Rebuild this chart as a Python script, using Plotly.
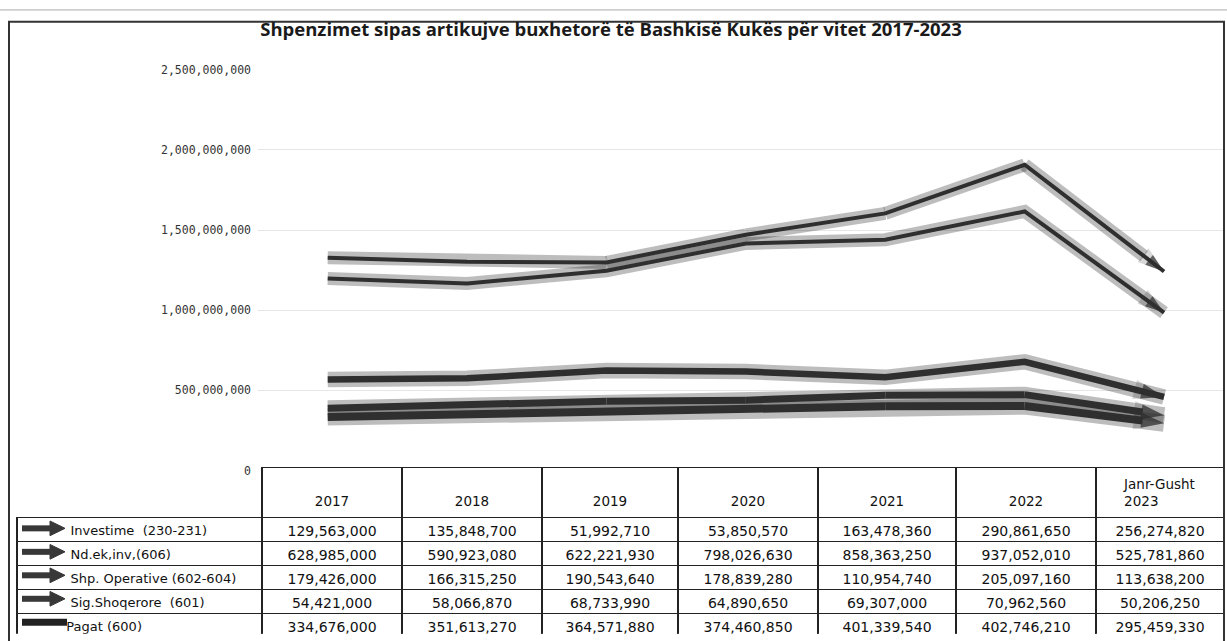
import plotly.graph_objects as go

W, H = 1227, 641

# ---------------- data ----------------
categories = ["2017", "2018", "2019", "2020", "2021", "2022", "Janr-Gusht 2023"]
header_labels = ["2017", "2018", "2019", "2020", "2021", "2022", "Janr-Gusht<br>2023"]
series_names = ["Investime  (230-231)", "Nd.ek,inv,(606)", "Shp. Operative (602-604)",
                "Sig.Shoqerore  (601)", "Pagat (600)"]
investime = [129563000, 135848700, 51992710, 53850570, 163478360, 290861650, 256274820]
ndek = [628985000, 590923080, 622221930, 798026630, 858363250, 937052010, 525781860]
shp = [179426000, 166315250, 190543640, 178839280, 110954740, 205097160, 113638200]
sig = [54421000, 58066870, 68733990, 64890650, 69307000, 70962560, 50206250]
pagat = [334676000, 351613270, 364571880, 374460850, 401339540, 402746210, 295459330]
y_ticks = [0, 500000000, 1000000000, 1500000000, 2000000000, 2500000000]

table_series = [investime, ndek, shp, sig, pagat]          # table row order
stack_order = [(pagat, 8), (sig, 7), (shp, 6.5), (ndek, 4), (investime, 4)]  # bottom -> top

fig = go.Figure()

n = len(categories)
core_color = "#2f2f2f"


def head_size(w):
    return 24 if w > 5 else 20


# shadows (own stack group)
for vals, w in stack_order:
    fig.add_trace(go.Scatter(
        x=categories, y=vals, stackgroup="shadow", fill="none", mode="lines+markers",
        line=dict(color="rgba(0,0,0,0.26)", width=w + 9),
        marker=dict(symbol=["circle"] * (n - 1) + ["arrow"],
                    size=[0] * (n - 1) + [head_size(w) + 8],
                    angleref="previous", color="rgba(0,0,0,0.22)", line=dict(width=0)),
        hoverinfo="skip", cliponaxis=False))

# main lines
for vals, w in stack_order:
    fig.add_trace(go.Scatter(
        x=categories, y=vals, stackgroup="main", fill="none", mode="lines+markers",
        line=dict(color=core_color, width=w),
        marker=dict(symbol=["circle"] * (n - 1) + ["arrow"],
                    size=[0] * (n - 1) + [head_size(w)],
                    angleref="previous", color=core_color, line=dict(width=0)),
        cliponaxis=False))

# ---------------- table ----------------
nb = "\u00a0"
label_cells = [nb * 11 + s if i < 4 else nb * 10 + s for i, s in enumerate(series_names)]
col_values = [label_cells]
for j in range(n):
    col_values.append([f"{series[j]:,}" for series in table_series])
header_cells = [""] + [(nb + "<br>" + h) if "<br>" not in h else h for h in header_labels]

plot_bottom = 474
table_top = 471
header_h = 50
row_h = 24

fig.add_trace(go.Table(
    domain=dict(x=[17 / W, 1224 / W], y=[0, 1 - table_top / H]),
    columnwidth=[245, 140, 140, 136, 140, 138, 140, 128],
    header=dict(values=header_cells, height=header_h,
                fill=dict(color=["rgba(0,0,0,0)"] + ["white"] * n),
                line=dict(color=["rgba(0,0,0,0)"] + ["#222"] * n, width=1.5),
                font=dict(family="DejaVu Sans", size=13.5, color="#111"),
                align="center"),
    cells=dict(values=col_values, height=row_h,
               fill=dict(color="white"),
               line=dict(color="#222", width=1.5),
               font=dict(family="DejaVu Sans", size=[13] + [14] * n, color="#111"),
               align=["left"] + ["center"] * n)))


def px(x):
    return x / W


def py(y):
    return 1 - y / H


# legend icons in the table (drawn as shapes in paper space)
shapes = []
for i in range(5):
    yc = table_top + header_h + row_h * (i + 0.5)
    if i < 4:
        shapes.append(dict(type="line", xref="paper", yref="paper",
                           x0=px(22), x1=px(52), y0=py(yc), y1=py(yc),
                           line=dict(color="#383838", width=6)))
        shapes.append(dict(type="path", xref="paper", yref="paper",
                           path=f"M{px(50)},{py(yc - 7.5)} L{px(65)},{py(yc)} L{px(50)},{py(yc + 7.5)} Z",
                           fillcolor="#383838", line=dict(color="#383838", width=1)))
    else:
        shapes.append(dict(type="line", xref="paper", yref="paper",
                           x0=px(22), x1=px(67), y0=py(yc), y1=py(yc),
                           line=dict(color="#222", width=7)))

# outer frame + scan edge line
shapes.append(dict(type="rect", xref="paper", yref="paper", x0=px(9), x1=px(1224),
                   y0=-0.05, y1=py(15), line=dict(color="#333", width=2)))
shapes.append(dict(type="line", xref="paper", yref="paper", x0=0, x1=1,
                   y0=py(3), y1=py(3), line=dict(color="#aaa", width=1)))

fig.update_layout(
    width=W, height=H, margin=dict(l=0, r=0, t=0, b=0),
    paper_bgcolor="white", plot_bgcolor="white", showlegend=False,
    xaxis=dict(domain=[px(258), px(1224)], range=[-0.5, 6.43], type="category",
               showticklabels=False, showgrid=False, zeroline=False, showline=False),
    yaxis=dict(domain=[py(plot_bottom), py(64)], range=[0, 2.5e9],
               tickvals=y_ticks, tickformat=",", showgrid=True, gridcolor="#e6e6e6",
               zeroline=False, showline=False,
               tickfont=dict(family="DejaVu Sans Mono", size=11.5, color="#333"),
               ticklabelstandoff=6),
    title=dict(text="<b>Shpenzimet sipas artikujve buxhetorë të Bashkisë Kukës për vitet 2017-2023</b>",
               x=px(611), xanchor="center", y=py(30), yanchor="middle",
               font=dict(family="Open Sans", size=18.5, color="#1a1a1a")),
    shapes=shapes,
)

fig.write_html("out.html", config={"displayModeBar": False},
               post_script="document.body.style.margin='0';")
